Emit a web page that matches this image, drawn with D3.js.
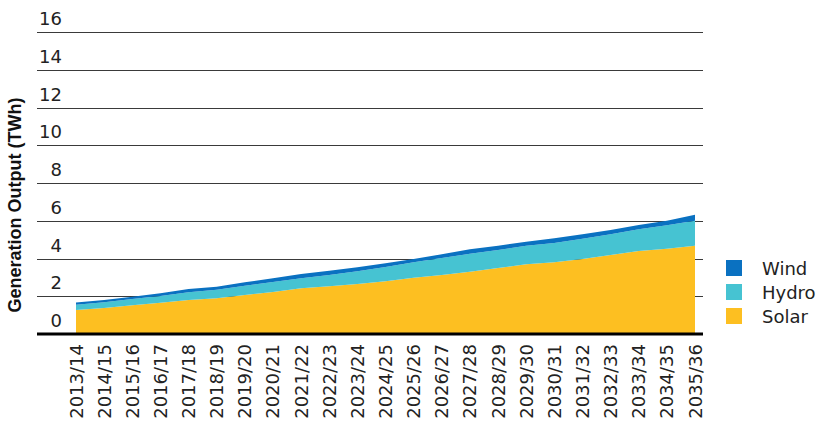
<!DOCTYPE html>
<html><head><meta charset="utf-8">
<script src="https://cdn.jsdelivr.net/npm/d3@7/dist/d3.min.js"></script>
<style>body{margin:0;background:#fff}svg{display:block}</style>
</head><body><svg id="c" width="820" height="422"></svg>
<script>
const years = ["2013/14","2014/15","2015/16","2016/17","2017/18","2018/19","2019/20","2020/21","2021/22","2022/23","2023/24","2024/25","2025/26","2026/27","2027/28","2028/29","2029/30","2030/31","2031/32","2032/33","2033/34","2034/35","2035/36"];
const solar = [1.27,1.38,1.52,1.66,1.80,1.90,2.07,2.22,2.42,2.53,2.65,2.80,2.98,3.12,3.30,3.50,3.69,3.80,3.98,4.19,4.40,4.52,4.68];
const hydro = [0.28,0.30,0.33,0.35,0.41,0.44,0.49,0.53,0.53,0.60,0.67,0.75,0.82,0.90,0.95,0.95,0.99,1.02,1.07,1.09,1.15,1.24,1.32];
const wind  = [0.12,0.12,0.13,0.15,0.17,0.16,0.18,0.20,0.23,0.22,0.21,0.20,0.17,0.20,0.24,0.23,0.21,0.25,0.23,0.23,0.23,0.24,0.32];
const yTicks = [0,2,4,6,8,10,12,14,16];
const seriesNames = ["Solar","Hydro","Wind"];
const legendOrder = ["Wind","Hydro","Solar"];
const colors = {Wind:"#0a71c1", Hydro:"#46c3d2", Solar:"#fdbf21"};
const yTitle = "Generation Output (TWh)";

const rows = years.map((y,i)=>({year:y, Solar:solar[i], Hydro:hydro[i], Wind:wind[i]}));
const svg = d3.select("#c");
const font = "'DejaVu Sans', sans-serif";
const x = d3.scalePoint().domain(years).range([76,695]);
const y = d3.scaleLinear().domain([0,16]).range([334,32]);
const gridX0 = 37, gridX1 = 703;

// gridlines
svg.append("g").selectAll("line").data(yTicks.filter(d=>d>0)).join("line")
  .attr("x1",gridX0).attr("x2",gridX1)
  .attr("y1",d=>Math.round(y(d))+0.5).attr("y2",d=>Math.round(y(d))+0.5)
  .attr("stroke","#3a3a3a").attr("stroke-width",1);

// y tick labels
svg.append("g").selectAll("text").data(yTicks).join("text")
  .attr("x",62).attr("y",d=>y(d)-7)
  .attr("text-anchor","end")
  .attr("font-family",font).attr("font-size",18).attr("fill","#222")
  .text(d=>d);

// stacked areas
const stack = d3.stack().keys(seriesNames)(rows);
const area = d3.area().x(d=>x(d.data.year)).y0(d=>y(d[0])).y1(d=>y(d[1]));
svg.append("g").selectAll("path").data(stack).join("path")
  .attr("d",area).attr("fill",d=>colors[d.key]);

// baseline
svg.append("line").attr("x1",gridX0).attr("x2",gridX1)
  .attr("y1",y(0)).attr("y2",y(0)).attr("stroke","#000").attr("stroke-width",3);

// x labels
svg.append("g").selectAll("text").data(years).join("text")
  .attr("transform",d=>`translate(${x(d)},344) rotate(-90)`)
  .attr("text-anchor","end").attr("dominant-baseline","central")
  .attr("font-family",font).attr("font-size",18).attr("fill","#222")
  .text(d=>d);

// y title
svg.append("text")
  .attr("transform","translate(15,205) rotate(-90)")
  .attr("text-anchor","middle").attr("dominant-baseline","central")
  .attr("font-family","'Liberation Sans', Arial, sans-serif").attr("font-size",18).attr("font-weight","bold").attr("fill","#111")
  .text(yTitle);

// legend
const lg = svg.append("g").selectAll("g").data(legendOrder).join("g")
  .attr("transform",(d,i)=>`translate(726,${260+i*24})`);
lg.append("rect").attr("width",16).attr("height",16).attr("fill",d=>colors[d]);
lg.append("text").attr("x",36).attr("y",8).attr("dominant-baseline","central")
  .attr("font-family",font).attr("font-size",18).attr("fill","#222").text(d=>d);
</script></body></html>
